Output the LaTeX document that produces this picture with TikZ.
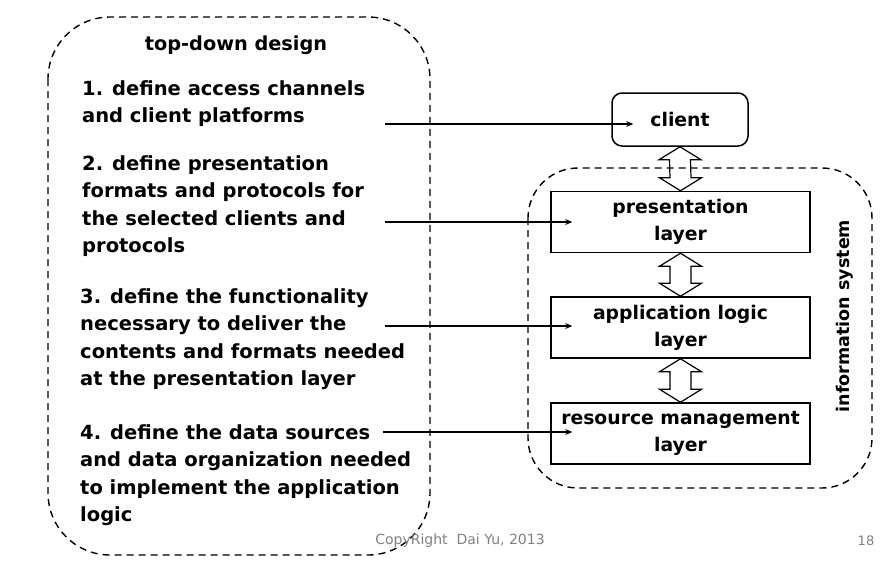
\documentclass[tikz,border=0pt]{standalone}
\usepackage{fontspec}
\setmainfont{DejaVu Sans}
\usetikzlibrary{calc,arrows.meta}
\newcommand\hollowarrow[2]{%
  \draw[line width=1.2pt, line join=miter] (#1) -- ++(21,13) -- ++(-10.5,0) -- ($(#2)+(10.5,-13)$) -- ++(10.5,0) -- (#2)
    -- ++(-21,-13) -- ++(10.5,0) -- ($(#1)+(-10.5,13)$) -- ++(-10.5,0) -- cycle;}
\begin{document}
\begin{tikzpicture}[x=1pt,y=-1pt,
  txt/.style={font=\bfseries\fontsize{19.5}{27.6}\selectfont, align=left, inner sep=0pt, anchor=north west},
  layer/.style={draw, line width=1.5pt, minimum width=259pt, minimum height=61pt, font=\bfseries\fontsize{18.8}{27}\selectfont, align=center, inner sep=0pt},
  region/.style={draw, line width=1.4pt, dash pattern=on 7pt off 5pt},
  feed/.style={-{Stealth[length=7pt,width=6pt]}, line width=1.2pt}]
\useasboundingbox (0,0) rectangle (895,565);
% dashed regions
\draw[region, rounded corners=62pt] (48,17) rectangle (430,555);
\draw[region, rounded corners=50pt] (528,168) rectangle (872,488);
% left texts
\node[font=\bfseries\fontsize{19.3}{27}\selectfont, inner sep=0pt] (title) at (236,45) {top-down design};
\node[txt] (t1) at (82,80) {1. define access channels\\and client platforms};
\node[txt] (t2) at (82,155) {2. define presentation\\formats and protocols for\\the selected clients and\\protocols};
\node[txt] (t3) at (80,288) {3. define the functionality\\necessary to deliver the\\contents and formats needed\\at the presentation layer};
\node[txt] (t4) at (80,424) {4. define the data sources\\and data organization needed\\to implement the application\\logic};
% right boxes
\node[draw, line width=1.5pt, rounded corners=10pt, minimum width=136pt, minimum height=53pt, font=\bfseries\fontsize{18.8}{27}\selectfont] (client) at (680,119.5) {client};
\node[layer] (pres) at (680.5,222) {presentation\\layer};
\node[layer] (app) at (680.5,327.5) {application logic\\layer};
\node[layer] (res) at (680.5,433.5) {resource management\\layer};
\node[rotate=90, font=\bfseries\fontsize{17.5}{27}\selectfont, inner sep=0pt] (is) at (845,316) {information system};
% hollow double arrows
\hollowarrow{client.south}{pres.north}
\hollowarrow{pres.south}{app.north}
\hollowarrow{app.south}{res.north}
% feed arrows
\coordinate (a1) at (385,124);
\coordinate (a2) at (385,222);
\coordinate (a3) at (385,326);
\coordinate (a4) at (383,432);
\draw[feed] (a1) -- ($(a1 -| client.west)+(22,0)$);
\draw[feed] (a2) -- ($(a2 -| pres.west)+(22,0)$);
\draw[feed] (a3) -- ($(a3 -| app.west)+(22,0)$);
\draw[feed] (a4) -- ($(a4 -| res.west)+(22,0)$);
% footer
\node[text=gray, font=\fontsize{14}{16}\selectfont, inner sep=0pt] (copy) at (460,541) {CopyRight\ \ Dai Yu, 2013};
\node[text=gray, font=\fontsize{13}{15}\selectfont, inner sep=0pt] (page) at (866,541) {18};
\end{tikzpicture}
\end{document}
